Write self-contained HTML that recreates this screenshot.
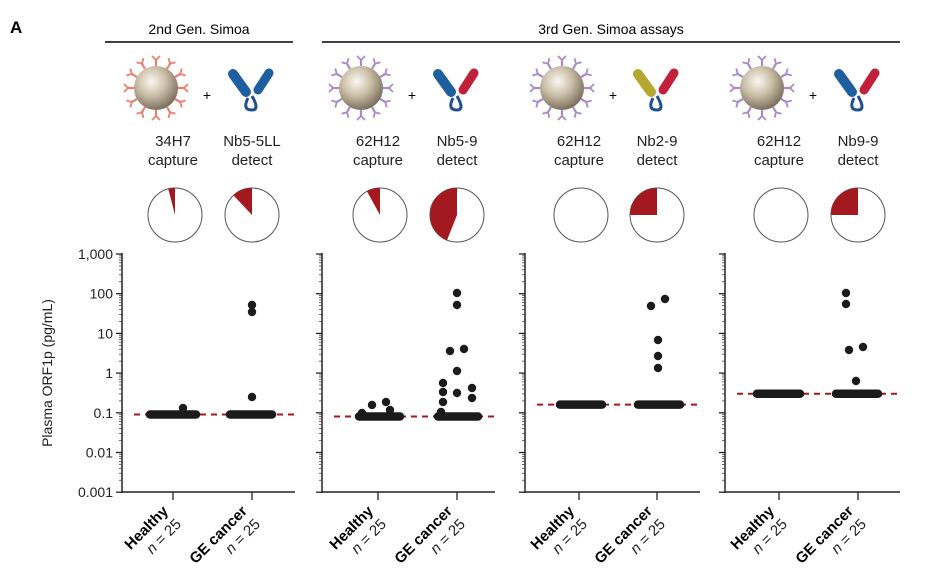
<!DOCTYPE html>
<html><head><meta charset="utf-8"><style>
html,body{margin:0;padding:0;background:#fff;}
svg{display:block;font-family:"Liberation Sans",Arial,sans-serif;}
</style></head><body>
<svg id="s" width="949" height="580" viewBox="0 0 949 580" xmlns="http://www.w3.org/2000/svg">
<defs>
<radialGradient id="bead" cx="0.4" cy="0.35" r="0.65">
<stop offset="0" stop-color="#fbf8f2"/><stop offset="0.5" stop-color="#cbbfa8"/><stop offset="1" stop-color="#7d7260"/>
</radialGradient>
</defs>
<text x="10" y="33" font-size="17" font-weight="bold">A</text>
<text x="199" y="34" font-size="14" text-anchor="middle">2nd Gen. Simoa</text>
<line x1="105" y1="42" x2="293" y2="42" stroke="#000" stroke-width="1.5"/>
<text x="611" y="34" font-size="14" text-anchor="middle">3rd Gen. Simoa assays</text>
<line x1="322" y1="42" x2="900" y2="42" stroke="#000" stroke-width="1.5"/>
<g id="g"></g>
<text transform="translate(52,373) rotate(-90)" font-size="14" text-anchor="middle" fill="#222">Plasma ORF1p (pg/mL)</text>
</svg>
<script>
const g=document.getElementById('g');let h='';
const Y=v=>373-39.7*Math.log10(v);
const panels=[
{ax:122,end:295,c:[173,252],cap:'34H7',det:'Nb5-5LL',ab:'#e8806e',dc:['#1f5fa0','#1f5fa0'],pie:[0.04,0.12],base:0.09,
 pts:[[183,408],[252,305],[252,312],[252,397]],bars:[[150,196],[230,272]]},
{ax:322,end:495,c:[378,457],cap:'62H12',det:'Nb5-9',ab:'#a98ac8',dc:['#1f5fa0','#c0203a'],pie:[0.08,0.44],base:0.08,
 pts:[[372,405],[386,402],[390,410],[362,413],[457,293],[457,305],[450,351],[464,349],[457,371],[443,383],[443,392],[443,402],[457,393],[472,388],[472,398],[441,412]],bars:[[359,400],[438,478]]},
{ax:525,end:700,c:[579,657],cap:'62H12',det:'Nb2-9',ab:'#a98ac8',dc:['#b5a830','#c0203a'],pie:[0,0.25],base:0.16,
 pts:[[651,306],[665,299],[658,340],[658,356],[658,368]],bars:[[560,602],[638,680]]},
{ax:725,end:900,c:[779,858],cap:'62H12',det:'Nb9-9',ab:'#a98ac8',dc:['#1f5fa0','#c0203a'],pie:[0,0.25],base:0.3,
 pts:[[846,293],[846,304],[849,350],[863,347],[856,381]],bars:[[757,800],[836,878]]}
];
const labs=['1,000','100','10','1','0.1','0.01','0.001'];
panels.forEach((p,i)=>{
 const bx=p.c[0]-17, by=88;
 for(let k=0;k<12;k++){const a=k*Math.PI/6;const x1=bx+22*Math.cos(a),y1=by+22*Math.sin(a),x2=bx+28*Math.cos(a),y2=by+28*Math.sin(a);
  h+=`<line x1="${x1}" y1="${y1}" x2="${x2}" y2="${y2}" stroke="${p.ab}" stroke-width="2.2"/>`;
  const px=-Math.sin(a)*4,py=Math.cos(a)*4;
  h+=`<line x1="${x2}" y1="${y2}" x2="${x2+Math.cos(a)*4+px}" y2="${y2+Math.sin(a)*4+py}" stroke="${p.ab}" stroke-width="1.8"/><line x1="${x2}" y1="${y2}" x2="${x2+Math.cos(a)*4-px}" y2="${y2+Math.sin(a)*4-py}" stroke="${p.ab}" stroke-width="1.8"/>`;}
 h+=`<circle cx="${bx}" cy="${by}" r="22" fill="url(#bead)"/>`;
 h+=`<text x="${p.c[0]+34}" y="100" font-size="14" text-anchor="middle">+</text>`;
 const dx=p.c[1];
 h+=`<path d="M${dx-4} 98 q-6 12 4 12 q8 0 0 -14" fill="none" stroke="#1f4f90" stroke-width="3"/>`;
 h+=`<line x1="${dx-19}" y1="74" x2="${dx-6}" y2="92" stroke="${p.dc[0]}" stroke-width="10" stroke-linecap="round"/>`;
 h+=`<line x1="${dx+17}" y1="73" x2="${dx+6}" y2="90" stroke="${p.dc[1]}" stroke-width="9" stroke-linecap="round"/>`;
 h+=`<text x="${p.c[0]}" y="146" font-size="15" text-anchor="middle" fill="#222">${p.cap}</text><text x="${p.c[0]}" y="165" font-size="15" text-anchor="middle" fill="#222">capture</text>`;
 h+=`<text x="${p.c[1]}" y="146" font-size="15" text-anchor="middle" fill="#222">${p.det}</text><text x="${p.c[1]}" y="165" font-size="15" text-anchor="middle" fill="#222">detect</text>`;
 [0,1].forEach(j=>{const cx=p.c[j]+(j==0?2:0),cy=215,r=27,f=p.pie[j];
  h+=`<circle cx="${cx}" cy="${cy}" r="${r}" fill="#fff" stroke="#555" stroke-width="1"/>`;
  if(f>0){const a=-Math.PI/2-f*2*Math.PI;const ex=cx+r*Math.cos(a),ey=cy+r*Math.sin(a);
   h+=`<path d="M${cx} ${cy} L${cx} ${cy-r} A${r} ${r} 0 ${f>0.5?1:0} 0 ${ex} ${ey} Z" fill="#a3191f"/>`;}
 });
 h+=`<line x1="${p.ax}" y1="253" x2="${p.ax}" y2="493" stroke="#222" stroke-width="1.5"/>`;
 h+=`<line x1="${p.ax}" y1="492" x2="${p.end}" y2="492" stroke="#222" stroke-width="1.5"/>`;
 for(let d=0;d<7;d++){const y=254+d*39.7;h+=`<line x1="${p.ax-6}" y1="${y}" x2="${p.ax}" y2="${y}" stroke="#222" stroke-width="1.3"/>`;
  if(i==0)h+=`<text x="${p.ax-9}" y="${y+5}" font-size="14" text-anchor="end" fill="#222">${labs[d]}</text>`;
  if(d<6)for(let m=2;m<10;m++){const yy=y+39.7-39.7*Math.log10(m);h+=`<line x1="${p.ax-3}" y1="${yy}" x2="${p.ax}" y2="${yy}" stroke="#444" stroke-width="0.8"/>`;}}
 p.c.forEach((cx,j)=>{h+=`<line x1="${cx}" y1="492" x2="${cx}" y2="500" stroke="#222" stroke-width="1.3"/>`;
  const t=j==0?'Healthy':'GE cancer';
  h+=`<text transform="translate(${cx-4},512) rotate(-45)" font-size="15" font-weight="bold" text-anchor="end">${t}</text>`;
  h+=`<text transform="translate(${cx+9},525) rotate(-45)" font-size="15" text-anchor="end" fill="#222"><tspan font-style="italic">n</tspan> = 25</text>`;});
 const by2=Y(p.base);
 h+=`<line x1="${p.ax+12}" y1="${by2}" x2="${p.end}" y2="${by2}" stroke="#a3191f" stroke-width="2" stroke-dasharray="6,5"/>`;
 p.bars.forEach(b=>{h+=`<line x1="${b[0]}" y1="${by2}" x2="${b[1]}" y2="${by2}" stroke="#1b1b1b" stroke-width="8.5" stroke-linecap="round"/>`;});
 p.pts.forEach(q=>{h+=`<circle cx="${q[0]}" cy="${q[1]}" r="4.2" fill="#1b1b1b"/>`;});
});
g.innerHTML=h;
</script>
</body></html>
